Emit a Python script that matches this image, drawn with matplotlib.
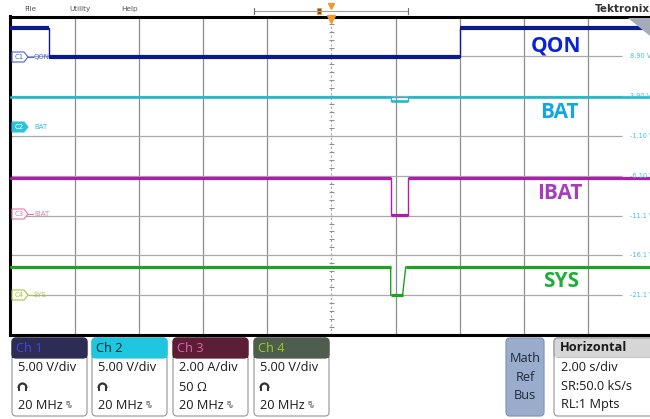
import numpy as np
import matplotlib
matplotlib.use("Agg")
import matplotlib.pyplot as plt
from matplotlib.patches import FancyBboxPatch, Rectangle, Polygon, Arc

# ---- waveform data (time in s, 2 s/div, trigger at 0) ----
t_qon = [-10, -8.8, -8.8, 4.0, 4.0, 10]
v_qon = [3.6, 3.6, -0.05, -0.05, 3.6, 3.6]
t_bat = [-10, 1.85, 1.85, 2.4, 2.4, 10]
v_bat = [3.8, 3.8, 3.3, 3.3, 3.8, 3.8]
v_bat_max = [3.8, 3.8, 3.8, 3.8, 3.8, 3.8]
t_ibat = [-10, 1.85, 1.85, 2.4, 2.4, 10]
v_ibat = [1.8, 1.8, -0.05, -0.05, 1.8, 1.8]
t_sys = [-10, 1.85, 1.85, 2.22, 2.32, 10]
v_sys = [3.5, 3.5, -0.05, -0.05, 3.5, 3.5]

ch_names = ["QON", "BAT", "IBAT", "SYS"]
ch_offset_div = [3.0, 1.23, -0.96, -2.99]
ch_scale = [5.0, 5.0, 2.0, 5.0]
ch_scale_text = ["5.00 V/div", "5.00 V/div", "2.00 A/div", "5.00 V/div"]
ch_mid_text = [None, None, "50 Ω", None]
bw_text = "20 MHz"
level_labels = ["8.90 V", "3.90 V", "-1.10 V", "-6.10 V", "-11.1 V", "-16.1 V", "-21.1 V"]
horiz_text = ["2.00 s/div", "SR:50.0 kS/s", "RL:1 Mpts"]
menu = ["File", "Utility", "Help"]

trace_colors = ["#0b1a8f", "#22b8c8", "#b01cb0", "#1fa21f"]
label_colors = ["#0a22d8", "#12a6e6", "#a83cba", "#1fae3a"]
marker_colors = ["#5060e0", "#2cc4dc", "#e47aa8", "#a8c838"]
head_colors = ["#2c2c54", "#1ec6df", "#5b1e36", "#4e5d4f"]
head_text_colors = ["#4646e6", "#0d2530", "#e464a8", "#9ccd1a"]

UI = "Open Sans"
FS = 9.2

W, H = 650, 419
fig = plt.figure(figsize=(6.5, 4.19), dpi=100)
fig.patch.set_facecolor("white")

# scope graticule, 10 x 8 divisions
left, top, right, bottom = 10.3, 16.5, 652.3, 335.0
ax = fig.add_axes([left / W, 1 - bottom / H, (right - left) / W, (bottom - top) / H])
ax.set_xlim(-10, 10)
ax.set_ylim(-4, 4)
ax.set_xticks([])
ax.set_yticks([])
for s in ["left", "top", "bottom"]:
    ax.spines[s].set_linewidth(2.2)
ax.spines["right"].set_visible(False)

for x in [-8, -6, -4, -2, 2, 4, 6, 8]:
    ax.axvline(x, color="#8c8c8c", lw=0.9, zorder=1)
ax.axvline(0, color="#a8a8a8", lw=0.8, ls=(0, (2, 2)), zorder=1)
ax.hlines(np.arange(-3.8, 4, 0.2), -0.07, 0.07, color="#909090", lw=0.8, zorder=1)
ax.hlines(range(-3, 4), -10, 9.05, color="#aaaaaa", lw=0.9, zorder=1)

def draw_trace(t, v, off, scale, color, lw):
    y = off + np.array(v) / scale
    ax.plot(t, y, color=color, lw=1.0, zorder=3, solid_joinstyle="miter")
    for i in range(len(t) - 1):
        if t[i] != t[i + 1] and abs(y[i] - y[i + 1]) < 0.05:
            ax.plot([t[i], t[i + 1]], [y[i], y[i + 1]], color=color, lw=lw,
                    zorder=3, solid_capstyle="butt")

draw_trace(t_qon, v_qon, ch_offset_div[0], ch_scale[0], trace_colors[0], 3.0)
draw_trace(t_bat, v_bat, ch_offset_div[1], ch_scale[1], trace_colors[1], 1.8)
ax.plot(t_bat, ch_offset_div[1] + np.array(v_bat_max) / ch_scale[1],
        color=trace_colors[1], lw=0.9, zorder=3)
draw_trace(t_ibat, v_ibat, ch_offset_div[2], ch_scale[2], trace_colors[2], 2.3)
draw_trace(t_sys, v_sys, ch_offset_div[3], ch_scale[3], trace_colors[3], 2.3)

for k, lab in enumerate(level_labels):
    ax.text(9.3, 3 - k, lab, color="#3cc4dc", fontsize=4.8, va="center", ha="left",
            zorder=4, clip_on=False)

ax.plot(0, 3.93, marker="v", color="#f09a30", ms=6, clip_on=False, zorder=5)

# overlay in pixel coordinates for the instrument UI
ov = fig.add_axes([0, 0, 1, 1])
ov.set_xlim(0, W)
ov.set_ylim(H, 0)
ov.axis("off")

# menu bar
for x, m in zip([30, 80, 130], menu):
    ov.text(x, 9, m, fontsize=5.2, color="#555555", ha="center", va="center")
ov.plot([254, 408], [11, 11], color="#a0a0a0", lw=0.8)
ov.plot([254, 254], [8, 14], color="#707070", lw=0.8)
ov.plot([408, 408], [8, 14], color="#707070", lw=0.8)
ov.add_patch(Rectangle((317, 8), 4, 6, fc="#8a4a10", ec="#f09a30", lw=0.6))
ov.plot(331, 6, marker="v", color="#f09a30", ms=4)
ov.text(650, 9, "Tektronix", fontsize=7.5, fontweight="bold", color="#333333",
        ha="right", va="center")

# zoom icon corner
ov.add_patch(Polygon([(628, 18), (650, 18), (650, 36)], closed=True, fc="#a4acbc", ec="none"))

# big channel labels
big_pos = [(556, 46), (559, 112), (560, 193), (561, 281)]
for (x, y), name, c in zip(big_pos, ch_names, label_colors):
    ov.text(x, y, name, fontsize=15, fontweight="bold", color=c, family="Open Sans",
            ha="center", va="center")

# channel markers at the left edge
mark_y = [57, 127, 214, 295]
for i, (y, name, c) in enumerate(zip(mark_y, ch_names, marker_colors)):
    filled = (i == 1)
    ov.add_patch(Polygon([(12, y - 5), (24, y - 5), (28, y), (24, y + 5), (12, y + 5)],
                         closed=True, fc=c if filled else "white", ec=c, lw=0.8, zorder=6))
    ov.text(19, y, "C%d" % (i + 1), fontsize=5, color="white" if filled else c,
            ha="center", va="center", zorder=7)
    if not filled:
        ov.plot([28, 33], [y, y], color=c, lw=0.8, zorder=6)
    ov.text(34, y, name, fontsize=5, color=c, ha="left", va="center", zorder=7)

# channel readout boxes
box_x = [12, 92, 173, 254]
for i in range(4):
    x0 = box_x[i]
    w = 75
    ov.add_patch(FancyBboxPatch((x0, 338), w, 78, boxstyle="round,pad=0,rounding_size=4",
                                fc="white", ec="#a0a0a0", lw=0.9))
    ov.add_patch(FancyBboxPatch((x0, 338), w, 20, boxstyle="round,pad=0,rounding_size=4",
                                fc=head_colors[i], ec=head_colors[i], lw=0.9))
    ov.add_patch(Rectangle((x0, 352), w, 6, fc=head_colors[i], ec="none"))
    ov.text(x0 + 4, 348, "Ch %d" % (i + 1), fontsize=FS, family=UI,
            color=head_text_colors[i], va="center", ha="left")
    ov.text(x0 + 6, 367, ch_scale_text[i], fontsize=FS, family=UI,
            color="#1a1a1a", va="center", ha="left")
    if ch_mid_text[i]:
        ov.text(x0 + 6, 387, ch_mid_text[i], fontsize=FS, family=UI,
                color="#1a1a1a", va="center", ha="left")
    else:
        ov.add_patch(Arc((x0 + 10.5, 388), 8, 9, theta1=180, theta2=360, lw=1.6, color="#333333"))
        ov.add_patch(Rectangle((x0 + 6.0, 387), 2.2, 4, fc="#333333", ec="none"))
        ov.add_patch(Rectangle((x0 + 12.8, 387), 2.2, 4, fc="#333333", ec="none"))
    ov.text(x0 + 6, 405, bw_text, fontsize=FS, family=UI,
            color="#1a1a1a", va="center", ha="left")
    ov.text(x0 + 53, 403, "B", fontsize=4.5, color="#333333", va="center", ha="left")
    ov.text(x0 + 56, 406, "w", fontsize=3.5, color="#333333", va="center", ha="left")

# math/ref/bus button
ov.add_patch(FancyBboxPatch((506, 338), 38, 78, boxstyle="round,pad=0,rounding_size=4",
                            fc="#9aaccb", ec="#8496b8", lw=0.9))
for y, s in zip([358, 377, 395], ["Math", "Ref", "Bus"]):
    ov.text(525, y, s, fontsize=FS, family=UI, color="#1f2a3a", ha="center", va="center")

# horizontal readout
ov.add_patch(FancyBboxPatch((554, 338), 110, 78, boxstyle="round,pad=0,rounding_size=4",
                            fc="white", ec="#a0a0a0", lw=0.9))
ov.add_patch(FancyBboxPatch((554, 338), 110, 19, boxstyle="round,pad=0,rounding_size=4",
                            fc="#d6d6d6", ec="#a0a0a0", lw=0.9))
ov.add_patch(Rectangle((554.5, 350), 109, 7, fc="#d6d6d6", ec="none"))
ov.text(560, 347, "Horizontal", fontsize=FS, family=UI, fontweight="bold",
        color="#1a1a1a", va="center", ha="left")
for y, s in zip([367, 386, 404], horiz_text):
    ov.text(561, y, s, fontsize=FS, family=UI, color="#1a1a1a", va="center", ha="left")

fig.savefig("out.png", dpi=100, facecolor="white")
